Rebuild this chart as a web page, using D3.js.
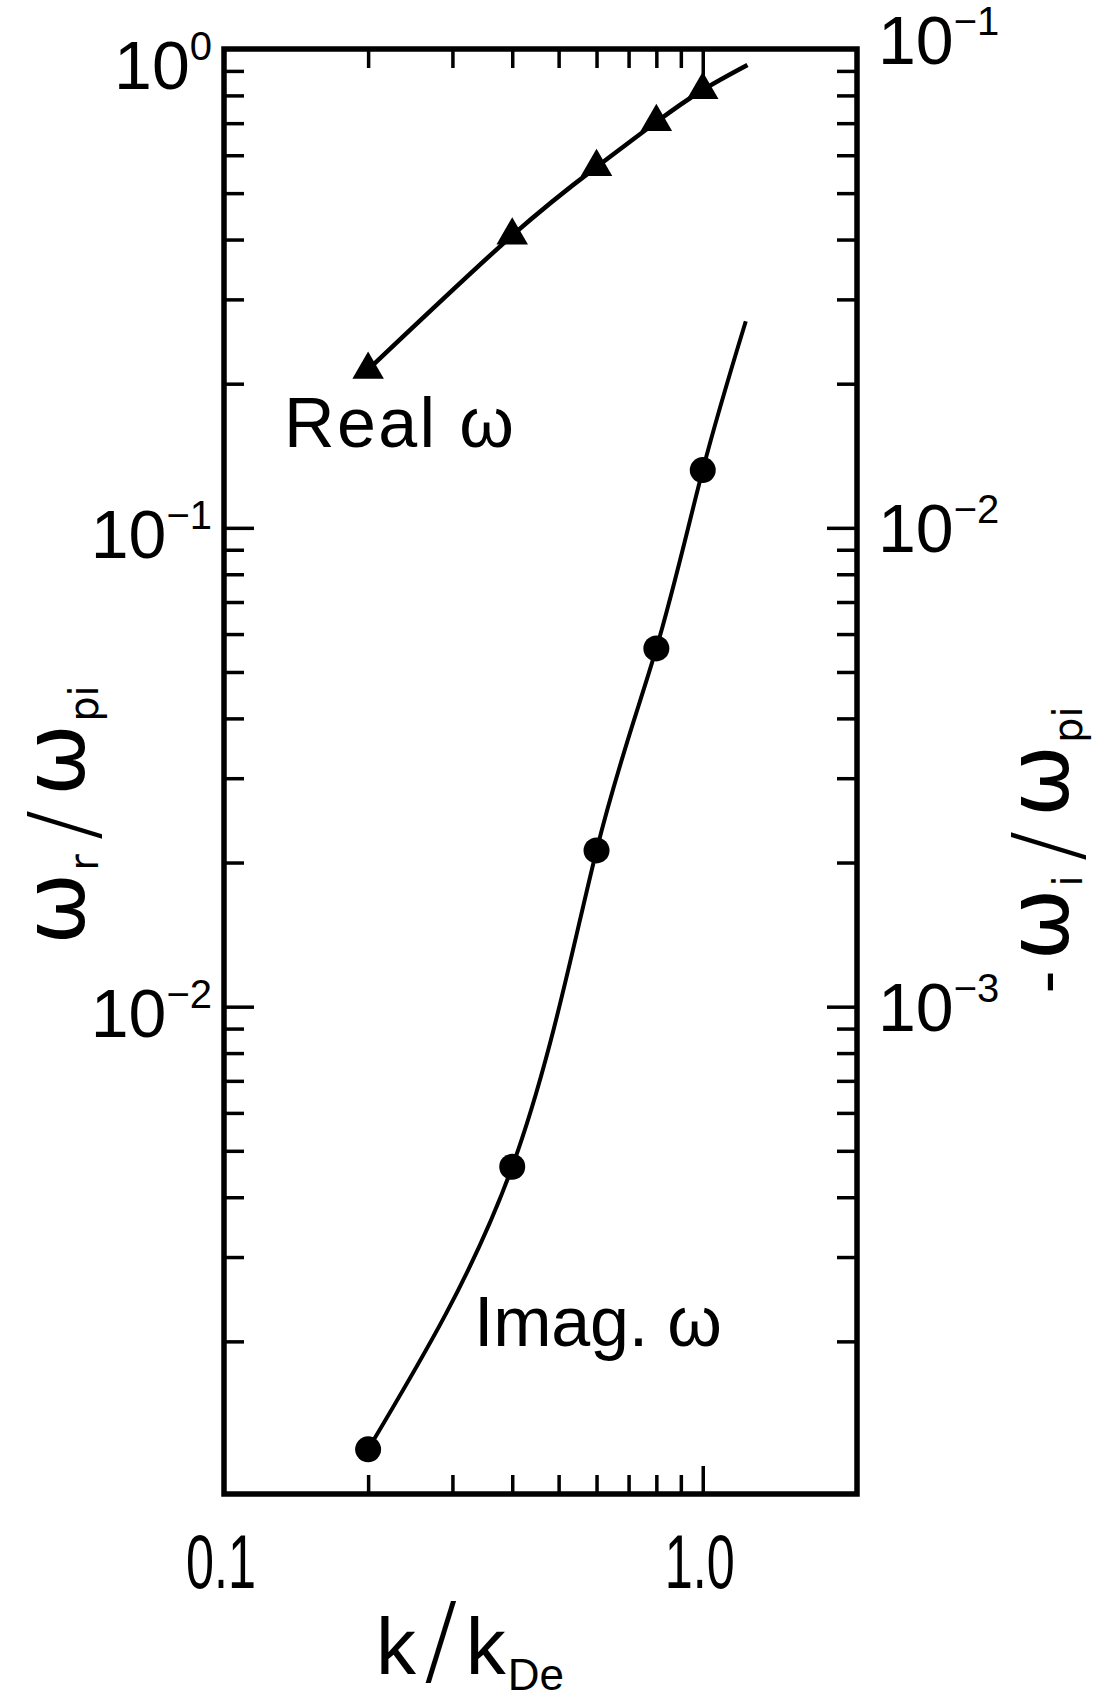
<!DOCTYPE html>
<html><head><meta charset="utf-8">
<script src="https://cdn.jsdelivr.net/npm/d3@7"></script>
<style>html,body{margin:0;padding:0;background:#fff;} svg{display:block;}</style>
</head><body>
<svg id="chart" width="1097" height="1701"></svg>
<script>
// ---- data ----
const kPoints = [0.2, 0.4, 0.6, 0.8, 1.0];
const realOmega = [0.214, 0.408, 0.567, 0.704, 0.821];          // left axis
const imagOmega = [1.19e-4, 4.63e-4, 2.12e-3, 5.60e-3, 1.32e-2];  // right axis (-omega_i)
const realCurveK = [0.2, 0.4, 0.6, 0.8, 1.0, 1.24];
const realCurveW = [0.214, 0.408, 0.567, 0.704, 0.821, 0.926];
const imagCurveK = [0.2, 0.4, 0.6, 0.8, 1.0, 1.23];
const imagCurveW = [1.19e-4, 4.63e-4, 2.12e-3, 5.60e-3, 1.32e-2, 2.70e-2];
const xMinorTicks = [0.2, 0.3, 0.4, 0.5, 0.6, 0.7, 0.8, 0.9];
const xMajorTicks = [1.0];
const xTickLabels = [{v: 0.1, t: "0.1"}, {v: 1.0, t: "1.0"}];
const leftMajor = [0.1, 0.01];
const leftLabels = [{v: 1, e: "0"}, {v: 0.1, e: "\u22121"}, {v: 0.01, e: "\u22122"}];
const rightLabels = [{v: 0.1, e: "\u22121"}, {v: 0.01, e: "\u22122"}, {v: 0.001, e: "\u22123"}];

// ---- layout ----
const L = 224, R = 857, T = 49, B = 1494;
const svg = d3.select("#chart");
svg.append("rect").attr("width", 1097).attr("height", 1701).attr("fill", "#fff");

const x = d3.scaleLog().domain([0.1, 2.1]).range([L, R]);
const yL = d3.scaleLog().domain([0.00096, 1]).range([B, T]);
const yR = d3.scaleLog().domain([0.000096, 0.1]).range([B, T]);

// minor ticks for y: 2..9 in each decade
const yMinor = [];
[0.001, 0.01, 0.1].forEach(d => { for (let m = 2; m <= 9; m++) yMinor.push(+(d * m).toPrecision(3)); });
const yMinorR = yMinor.map(v => v / 10);
const yMajorR = leftMajor.map(v => v / 10);

function styleAxis(g, w) {
  g.select(".domain").remove();
  g.selectAll(".tick line").attr("stroke", "#000").attr("stroke-width", w);
  g.selectAll(".tick text").remove();
}
const tk = 3.5;
// x bottom
svg.append("g").attr("transform", `translate(0,${B})`)
  .call(d3.axisBottom(x).tickValues(xMinorTicks).tickSize(-19).tickFormat("")).call(g => styleAxis(g, tk));
svg.append("g").attr("transform", `translate(0,${B})`)
  .call(d3.axisBottom(x).tickValues(xMajorTicks).tickSize(-28).tickFormat("")).call(g => styleAxis(g, tk));
// x top
svg.append("g").attr("transform", `translate(0,${T})`)
  .call(d3.axisTop(x).tickValues(xMinorTicks).tickSize(-19).tickFormat("")).call(g => styleAxis(g, tk));
svg.append("g").attr("transform", `translate(0,${T})`)
  .call(d3.axisTop(x).tickValues(xMajorTicks).tickSize(-28).tickFormat("")).call(g => styleAxis(g, tk));
// y left
svg.append("g").attr("transform", `translate(${L},0)`)
  .call(d3.axisLeft(yL).tickValues(yMinor).tickSize(-20).tickFormat("")).call(g => styleAxis(g, tk));
svg.append("g").attr("transform", `translate(${L},0)`)
  .call(d3.axisLeft(yL).tickValues(leftMajor).tickSize(-30).tickFormat("")).call(g => styleAxis(g, tk));
// y right
svg.append("g").attr("transform", `translate(${R},0)`)
  .call(d3.axisRight(yR).tickValues(yMinorR).tickSize(-20).tickFormat("")).call(g => styleAxis(g, tk));
svg.append("g").attr("transform", `translate(${R},0)`)
  .call(d3.axisRight(yR).tickValues(yMajorR).tickSize(-30).tickFormat("")).call(g => styleAxis(g, tk));

// frame
svg.append("rect").attr("x", L).attr("y", T).attr("width", R - L).attr("height", B - T)
  .attr("fill", "none").attr("stroke", "#000").attr("stroke-width", 5.5);

const font = "'Liberation Sans', Arial, sans-serif";
const thin = "'DejaVu Sans', sans-serif";

// tick labels, left
leftLabels.forEach((d, i) => {
  const ty = yL(d.v);
  const base = i === 0 ? ty + 40 : ty + 30;
  const t = svg.append("text").attr("x", 212).attr("y", base).attr("text-anchor", "end")
    .attr("font-family", font).attr("font-size", 68).attr("fill", "#000");
  t.append("tspan").text("10");
  t.append("tspan").attr("font-size", 40).attr("dy", -29).text(d.e);
});
// tick labels, right
rightLabels.forEach((d, i) => {
  const ty = yR(d.v);
  const base = i === 0 ? ty + 15 : ty + 24;
  const t = svg.append("text").attr("x", 878).attr("y", base).attr("text-anchor", "start")
    .attr("font-family", font).attr("font-size", 68).attr("fill", "#000");
  t.append("tspan").text("10");
  t.append("tspan").attr("font-size", 40).attr("dy", -29).text(d.e);
});
// x tick labels
xTickLabels.forEach(d => {
  svg.append("text").attr("x", x(d.v) - 3).attr("y", 1588).attr("text-anchor", "middle")
    .attr("font-family", font).attr("font-size", 76).attr("fill", "#000")
    .attr("textLength", 70).attr("lengthAdjust", "spacingAndGlyphs").text(d.t);
});

// curves
const line = d3.line().curve(d3.curveNatural);
svg.append("path")
  .attr("d", line(realCurveK.map((k, i) => [x(k), yL(realCurveW[i])])))
  .attr("fill", "none").attr("stroke", "#000").attr("stroke-width", 4.5);
svg.append("path")
  .attr("d", line(imagCurveK.map((k, i) => [x(k), yR(imagCurveW[i])])))
  .attr("fill", "none").attr("stroke", "#000").attr("stroke-width", 4);

// markers
const tri = d3.symbol(d3.symbolTriangle).size(430);
svg.selectAll(".tri").data(kPoints).join("path").attr("class", "tri")
  .attr("transform", (k, i) => `translate(${x(k)},${yL(realOmega[i])})`)
  .attr("d", tri).attr("fill", "#000");
svg.selectAll(".dot").data(kPoints).join("circle").attr("class", "dot")
  .attr("cx", k => x(k)).attr("cy", (k, i) => yR(imagOmega[i])).attr("r", 13).attr("fill", "#000");

// curve labels
svg.append("text").attr("x", 284).attr("y", 447).attr("font-family", font).attr("font-size", 70)
  .attr("textLength", 230).attr("lengthAdjust", "spacing").attr("fill", "#000").text("Real \u03c9");
svg.append("text").attr("x", 474).attr("y", 1346).attr("font-family", font).attr("font-size", 70)
  .attr("textLength", 248).attr("lengthAdjust", "spacing").attr("fill", "#000").text("Imag. \u03c9");

// axis titles
function omegaTitle(cx, cy, pre, sub) {
  const t = svg.append("text").attr("transform", `translate(${cx},${cy}) rotate(-90)`)
    .attr("text-anchor", "middle").attr("font-family", thin)
    .attr("font-size", 86).attr("fill", "#000");
  if (pre) t.append("tspan").attr("font-size", 64).text(pre);
  t.append("tspan").attr("dx", pre ? 10 : 0).text("\u03c9");
  t.append("tspan").attr("font-size", 40).attr("dy", 14).attr("dx", 2).text(sub);
  t.append("tspan").attr("font-size", 90).attr("font-weight", 200)
    .attr("dy", -4).attr("dx", 14).text("/");
  t.append("tspan").attr("dy", -10).attr("dx", 14).text("\u03c9");
  t.append("tspan").attr("font-size", 40).attr("dy", 14).attr("dx", 2).text("pi");
}
omegaTitle(84, 815, null, "r");
omegaTitle(1068, 850, "-", "i");

// x title
const xt = svg.append("text").attr("x", 470).attr("y", 1674).attr("text-anchor", "middle")
  .attr("font-family", font).attr("font-size", 80).attr("fill", "#000");
xt.append("tspan").text("k");
xt.append("tspan").attr("font-family", thin).attr("font-weight", 200).attr("font-size", 100).attr("dx", 8).text("/");
xt.append("tspan").attr("dx", 8).text("k");
xt.append("tspan").attr("font-size", 44).attr("dy", 16).attr("dx", 2).text("De");
</script>
</body></html>
